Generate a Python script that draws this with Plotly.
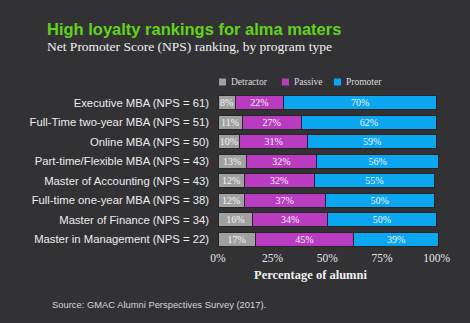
import plotly.graph_objects as go

programs = [
    "Executive MBA (NPS = 61)",
    "Full-Time two-year MBA (NPS = 51)",
    "Online MBA (NPS = 50)",
    "Part-time/Flexible MBA (NPS = 43)",
    "Master of Accounting (NPS = 43)",
    "Full-time one-year MBA (NPS = 38)",
    "Master of Finance (NPS = 34)",
    "Master in Management (NPS = 22)",
]
detractor = [8, 11, 10, 13, 12, 12, 16, 17]
passive = [22, 27, 31, 32, 32, 37, 34, 45]
promoter = [70, 62, 59, 56, 55, 50, 50, 39]
tick_vals = [0, 25, 50, 75, 100]
tick_text = ["0%", "25%", "50%", "75%", "100%"]

series = [
    ("Detractor", detractor, "#a0a0a0"),
    ("Passive", passive, "#b93cc0"),
    ("Promoter", promoter, "#0aa6f0"),
]

BG = "#323235"
fig = go.Figure()
for name, vals, col in series:
    fig.add_trace(go.Bar(
        y=programs, x=vals, name=name, orientation="h",
        marker=dict(color=col, line=dict(color="#262628", width=1)),
        text=[f"{v}%" for v in vals], textposition="inside",
        insidetextanchor="middle", textangle=0,
        textfont=dict(family="Liberation Serif", size=10, color="#f2f2f2"),
        hoverinfo="skip", showlegend=False,
    ))

W, H = 470, 323
L, R, T, B = 218, 29, 93, 74

fig.update_layout(
    width=W, height=H, barmode="stack", bargap=0.28,
    paper_bgcolor=BG, plot_bgcolor=BG,
    margin=dict(l=L, r=R, t=T, b=B, pad=0),
    uniformtext=dict(minsize=10, mode="show"),
    xaxis=dict(range=[0, 102], tickvals=tick_vals, ticktext=tick_text,
               showgrid=False, zeroline=False, showline=False,
               tickfont=dict(family="Liberation Serif", size=11.5, color="#e6e6e6"),
               ticklabelstandoff=0),
    yaxis=dict(autorange="reversed", showgrid=False, zeroline=False, showline=False,
               tickfont=dict(family="Liberation Sans", size=11.3, color="#ececec"),
               ticklabelstandoff=8),
    showlegend=False,
)

def px_x(px):
    return (px - L) / (W - L - R)

def px_y(py):
    return 1 - (py - T) / (H - T - B)

annotations = [
    dict(text="<b>High loyalty rankings for alma maters</b>", x=45, y=29,
         font=dict(family="Liberation Sans", size=16.5, color="#62d21a")),
    dict(text="Net Promoter Score (NPS) ranking, by program type", x=45, y=47,
         font=dict(family="Liberation Serif", size=13.5, color="#f0f0f0")),
    dict(text="Source: GMAC Alumni Perspectives Survey (2017).", x=50, y=304,
         font=dict(family="Liberation Sans", size=9.4, color="#d6d6d6")),
]
for a in annotations:
    fig.add_annotation(text=a["text"], xref="paper", yref="paper",
                       x=px_x(a["x"]), y=px_y(a["y"]), xanchor="left", yanchor="middle",
                       showarrow=False, font=a["font"])

fig.add_annotation(text="<b>Percentage of alumni</b>", xref="paper", yref="paper",
                   x=px_x(310), y=px_y(275), xanchor="center", yanchor="middle",
                   showarrow=False,
                   font=dict(family="Liberation Serif", size=12.5, color="#f0f0f0"))

legend_items = [(219, "Detractor", "#a0a0a0"), (282, "Passive", "#b93cc0"), (334, "Promoter", "#0aa6f0")]
for lx, name, col in legend_items:
    fig.add_shape(type="rect", xref="paper", yref="paper",
                  x0=px_x(lx), x1=px_x(lx + 7), y0=px_y(85.5), y1=px_y(78.5),
                  fillcolor=col, line=dict(width=0))
    fig.add_annotation(text=name, xref="paper", yref="paper",
                       x=px_x(lx + 10), y=px_y(82), xanchor="left", yanchor="middle",
                       showarrow=False,
                       font=dict(family="Liberation Serif", size=9.5, color="#dcdcdc"))

fig.write_html("out.html")
